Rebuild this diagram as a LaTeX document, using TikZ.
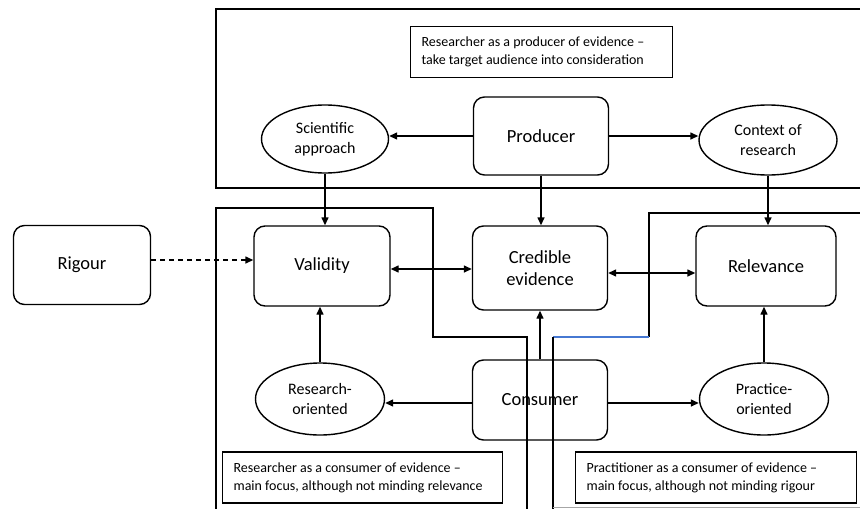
\documentclass[tikz,border=0pt]{standalone}
\usepackage{fontspec}
\setmainfont{Carlito}
\usetikzlibrary{arrows.meta,shapes.geometric}
\begin{document}
\begin{tikzpicture}[x=1pt,y=-1pt,
  line width=1.4pt,
  rbox/.style={draw,rounded corners=11pt,minimum width=#1,align=center,font=\fontsize{18.5}{22}\selectfont},
  ell/.style={draw,ellipse,inner sep=0pt,align=center,font=\fontsize{16}{20}\selectfont},
  note/.style={draw,line width=1.2pt,align=flush left,font=\fontsize{14}{18}\selectfont,inner xsep=11pt,anchor=west,minimum height=51pt,text width=#1},
  arr/.style={-{Triangle[length=8pt,width=7pt]}},
  arrb/.style={{Triangle[length=8pt,width=7pt]}-{Triangle[length=8pt,width=7pt]}},
  region/.style={line width=1.3pt}]
\useasboundingbox (0,0) rectangle (860,509);
% regions
\draw[region] (860,9) -- (216,9) -- (216,188) -- (860,188);
\draw[region] (216,509) -- (216,208) -- (433,208) -- (433,337) -- (527,337) -- (527,509);
\draw[region] (860,213) -- (649,213) -- (649,337);
\draw[region,color={rgb,255:red,70;green,120;blue,210}] (649,337) -- (553,337);
\draw[region] (553,337) -- (553,509);
\draw[line width=1pt,gray!70] (553,507.5) -- (860,507.5);
% notes
\node[note=240pt] (topnote) at (410,52) {Researcher as a producer of evidence --\\take target audience into consideration};
\node[note=258pt] (leftnote) at (222,477.5) {Researcher as a consumer of evidence --\\main focus, although not minding relevance};
\node[note=259pt] (rightnote) at (575,477.5) {Practitioner as a consumer of evidence --\\main focus, although not minding rigour};
% nodes
\node[rbox=135pt,minimum height=78pt,fill=white] (producer) at (541,136) {Producer};
\node[ell,minimum width=127pt,minimum height=68pt] (sci) at (325,139) {Scientific\\approach};
\node[ell,minimum width=138pt,minimum height=70pt] (ctx) at (768,140) {Context of\\research};
\node[rbox=136pt,minimum height=80pt] (validity) at (322,266) {Validity};
\node[rbox=135pt,minimum height=84pt] (cred) at (540,268) {Credible\\evidence};
\node[rbox=140pt,minimum height=80pt] (relev) at (766,266) {Relevance};
\node[ell,minimum width=129pt,minimum height=72pt] (research) at (320,399) {Research-\\oriented};
\node[rbox=135pt,minimum height=80pt] (consumer) at (540,400) {Consumer};
\node[ell,minimum width=129pt,minimum height=72pt] (practice) at (764,399) {Practice-\\oriented};
\node[rbox=137pt,minimum height=79pt] (rigour) at (82,265) {Rigour};
% connectors
\draw[arr] (producer.west) -- (sci.east |- producer.west);
\draw[arr] (producer.east) -- (ctx.west |- producer.east);
\draw[arr] (sci.south) -- (sci.south |- validity.north);
\draw[arr] (producer.south) -- (producer.south |- cred.north);
\draw[arr] (ctx.south) -- (ctx.south |- relev.north);
\draw[arrb] ([yshift=-3pt]validity.east) -- ([yshift=-3pt]validity.east -| cred.west);
\draw[arrb] ([yshift=-5pt]cred.east) -- ([yshift=-5pt]cred.east -| relev.west);
\draw[arr] (consumer.north) -- (cred.south);
\draw[arr] (research.north) -- (research.north |- validity.south);
\draw[arr] (practice.north) -- (practice.north |- relev.south);
\draw[arr] ([yshift=-3pt]consumer.west) -- ([yshift=-3pt]consumer.west -| research.east);
\draw[arr] ([yshift=-3pt]consumer.east) -- ([yshift=-3pt]consumer.east -| practice.west);
\draw[arr,dash pattern=on 5pt off 4pt] ([yshift=5pt]rigour.east) -- ([yshift=5pt]rigour.east -| validity.west);
\end{tikzpicture}
\end{document}
